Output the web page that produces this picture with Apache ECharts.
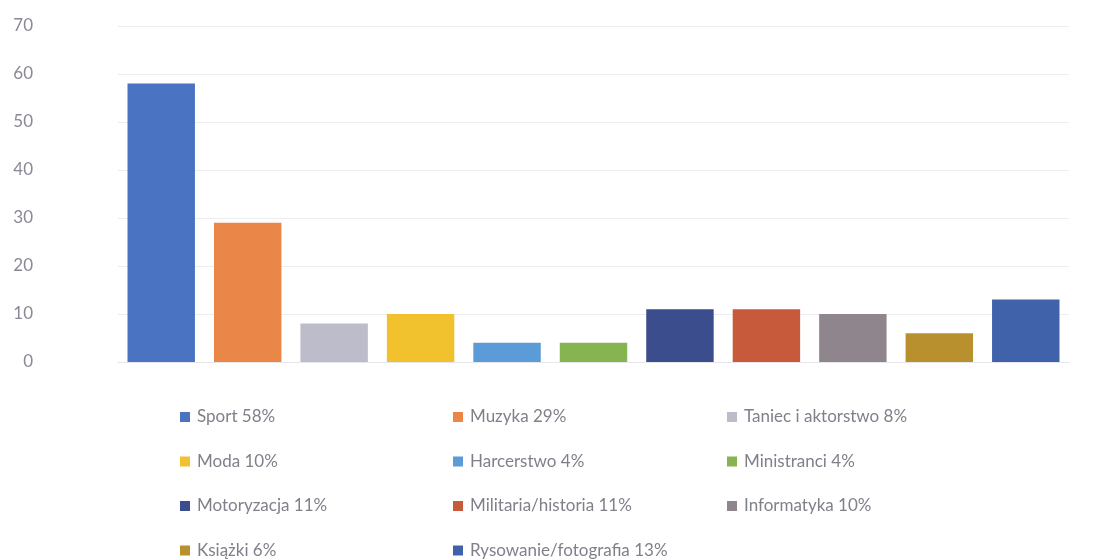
<!DOCTYPE html>
<html>
<head>
<meta charset="utf-8">
<script src="https://cdn.jsdelivr.net/npm/echarts@6/dist/echarts.min.js"></script>
<style>
    html, body { margin: 0; padding: 0; background: #fff; }
    #chart { width: 1093px; height: 560px; }
</style>
</head>
<body>
<div id="chart"></div>
<script>
    // dane z wykresu
    var categories = ['Sport', 'Muzyka', 'Taniec i aktorstwo', 'Moda', 'Harcerstwo', 'Ministranci',
        'Motoryzacja', 'Militaria/historia', 'Informatyka', 'Książki', 'Rysowanie/fotografia'];
    var values = [58, 29, 8, 10, 4, 4, 11, 11, 10, 6, 13];
    var legendNames = ['Sport 58%', 'Muzyka 29%', 'Taniec i aktorstwo 8%', 'Moda 10%', 'Harcerstwo 4%',
        'Ministranci 4%', 'Motoryzacja 11%', 'Militaria/historia 11%', 'Informatyka 10%', 'Książki 6%',
        'Rysowanie/fotografia 13%'];
    var colors = ['#4a73c2', '#ea8648', '#bdbccb', '#f2c12e', '#5a9bd8', '#86b450',
        '#3b4d8c', '#c65a3a', '#8e868c', '#b8902e', '#3f62aa'];

    var myChart = echarts.init(document.getElementById('chart'));

    // każda kategoria to osobna seria (dla legendy), w jednym stosie żeby słupki były na środku
    var series = categories.map(function (c, i) {
        return {
            name: legendNames[i],
            type: 'bar',
            stack: 'all',
            barWidth: '78%',
            itemStyle: { color: colors[i] },
            data: values.map(function (v, j) { return j === i ? v : '-'; })
        };
    });

    function legendCol(left, names) {
        return {
            orient: 'vertical',
            left: left,
            top: 408,
            padding: 0,
            itemWidth: 10,
            itemHeight: 10,
            itemGap: 26.5,
            icon: 'rect',
            selectedMode: false,
            textStyle: {
                color: '#80808b',
                fontSize: 17,
                lineHeight: 18,
                fontFamily: 'Lato',
                padding: [0, 0, 0, 2]
            },
            data: names
        };
    }

    var option = {
        animation: false,
        color: colors,
        grid: {
            left: 118,
            right: 24,
            top: 26,
            height: 336
        },
        legend: [
            legendCol(180, [legendNames[0], legendNames[3], legendNames[6], legendNames[9]]),
            legendCol(453, [legendNames[1], legendNames[4], legendNames[7], legendNames[10]]),
            legendCol(727, [legendNames[2], legendNames[5], legendNames[8]])
        ],
        xAxis: {
            type: 'category',
            data: categories,
            axisLine: { show: true, lineStyle: { color: '#e6e6ea' } },
            axisTick: { show: false },
            axisLabel: { show: false }
        },
        yAxis: {
            type: 'value',
            min: 0,
            max: 70,
            interval: 10,
            axisLine: { show: false },
            axisTick: { show: false },
            splitLine: { lineStyle: { color: '#ededf0' } },
            axisLabel: {
                color: '#8a8898',
                fontSize: 17,
                fontFamily: 'Lato',
                margin: 85
            }
        },
        series: series
    };
    myChart.setOption(option);
</script>
</body>
</html>
